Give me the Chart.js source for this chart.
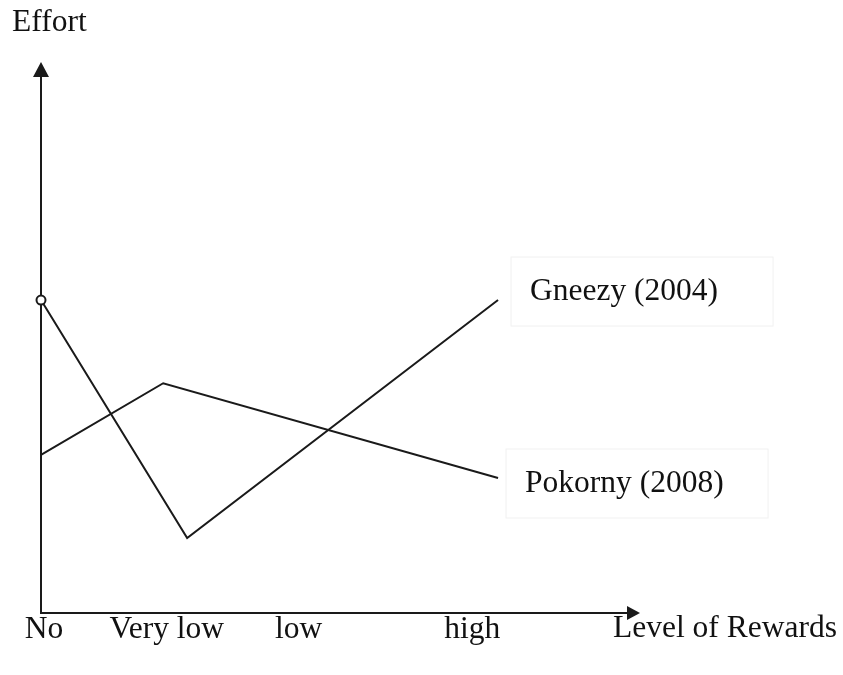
<!DOCTYPE html>
<html>
<head>
<meta charset="utf-8">
<script src="https://cdn.jsdelivr.net/npm/chart.js@4"></script>
<style>
  body { margin: 0; background: #fff; }
  #wrap { width: 843px; height: 675px; }
</style>
</head>
<body>
<div id="wrap"><canvas id="myChart" width="843" height="675"></canvas></div>
<script>
// level of rewards (x) and effort (y)
const rewardLevels = ['No', 'Very low', 'low', 'high'];
const rewardTickPos = [0.05, 2.1, 4.3, 7.2];

const gneezyX = [0, 2.44, 7.63];
const gneezyEffort = [5.68, 1.36, 5.68];

const pokornyX = [0, 2.04, 7.63];
const pokornyEffort = [2.87, 4.17, 2.45];

const seriesNames = ['Gneezy (2004)', 'Pokorny (2008)'];

const FONT = 'Liberation Serif, Times New Roman, serif';
const FONT_SIZE = 31.5;
const INK = '#1a1a1a';

function toPoints(xs, ys) {
    return xs.map((x, i) => ({ x: x, y: ys[i] }));
}

// axes with arrow heads + free text labels
const sketchPlugin = {
    id: 'sketch',
    beforeDatasetsDraw(chart) {
        const ctx = chart.ctx;
        const a = chart.chartArea;
        ctx.save();
        ctx.strokeStyle = INK;
        ctx.fillStyle = INK;
        ctx.lineWidth = 2;
        // y axis
        ctx.beginPath();
        ctx.moveTo(a.left, a.bottom);
        ctx.lineTo(a.left, a.top + 10);
        ctx.stroke();
        ctx.beginPath();
        ctx.moveTo(a.left, a.top);
        ctx.lineTo(a.left - 8, a.top + 15);
        ctx.lineTo(a.left + 8, a.top + 15);
        ctx.closePath();
        ctx.fill();
        // x axis
        ctx.beginPath();
        ctx.moveTo(a.left - 1, a.bottom);
        ctx.lineTo(a.right - 10, a.bottom);
        ctx.stroke();
        ctx.beginPath();
        ctx.moveTo(a.right, a.bottom);
        ctx.lineTo(a.right - 13, a.bottom - 7);
        ctx.lineTo(a.right - 13, a.bottom + 7);
        ctx.closePath();
        ctx.fill();
        ctx.restore();
    },
    afterDraw(chart) {
        const ctx = chart.ctx;
        const a = chart.chartArea;
        ctx.save();
        ctx.font = FONT_SIZE + 'px ' + FONT;
        ctx.fillStyle = '#111';
        ctx.textBaseline = 'alphabetic';
        ctx.textAlign = 'left';
        ctx.fillText('Effort', 12, 31);
        ctx.fillText('Level of Rewards', 613, a.bottom + 24);

        // series labels next to the last point of each line
        const offsets = [[32, 0], [27, 14]];
        chart.data.datasets.forEach((ds, i) => {
            const meta = chart.getDatasetMeta(i);
            const last = meta.data[meta.data.length - 1];
            const tx = last.x + offsets[i][0];
            const ty = last.y + offsets[i][1];
            ctx.strokeStyle = '#f1f1f1';
            ctx.lineWidth = 1;
            ctx.strokeRect(tx - 19, ty - 43, 262, 69);
            ctx.fillText(seriesNames[i], tx, ty);
        });
        ctx.restore();
    }
};

new Chart(document.getElementById('myChart'), {
    type: 'line',
    data: {
        datasets: [
            {
                label: seriesNames[0],
                data: toPoints(gneezyX, gneezyEffort),
                borderColor: INK,
                borderWidth: 2,
                tension: 0,
                pointRadius: [4.5, 0, 0],
                pointBorderColor: INK,
                pointBorderWidth: 2,
                pointBackgroundColor: '#fff',
                clip: false
            },
            {
                label: seriesNames[1],
                data: toPoints(pokornyX, pokornyEffort),
                borderColor: INK,
                borderWidth: 2,
                tension: 0,
                pointRadius: 0,
                clip: false
            }
        ]
    },
    options: {
        responsive: false,
        animation: false,
        layout: { padding: { left: 41, right: 203, top: 62, bottom: 0 } },
        scales: {
            x: {
                type: 'linear',
                min: 0,
                max: 10,
                grid: { display: false, drawTicks: false },
                border: { display: false },
                afterBuildTicks(axis) {
                    axis.ticks = rewardTickPos.map(v => ({ value: v }));
                },
                afterFit(scale) {
                    scale.height = 62;
                },
                ticks: {
                    autoSkip: false,
                    maxRotation: 0,
                    padding: -2,
                    color: '#111',
                    font: { family: FONT, size: FONT_SIZE },
                    callback: (v, i) => rewardLevels[i]
                }
            },
            y: {
                display: false,
                min: 0,
                max: 10
            }
        },
        plugins: {
            legend: { display: false },
            tooltip: { enabled: false }
        }
    },
    plugins: [sketchPlugin]
});
</script>
</body>
</html>
